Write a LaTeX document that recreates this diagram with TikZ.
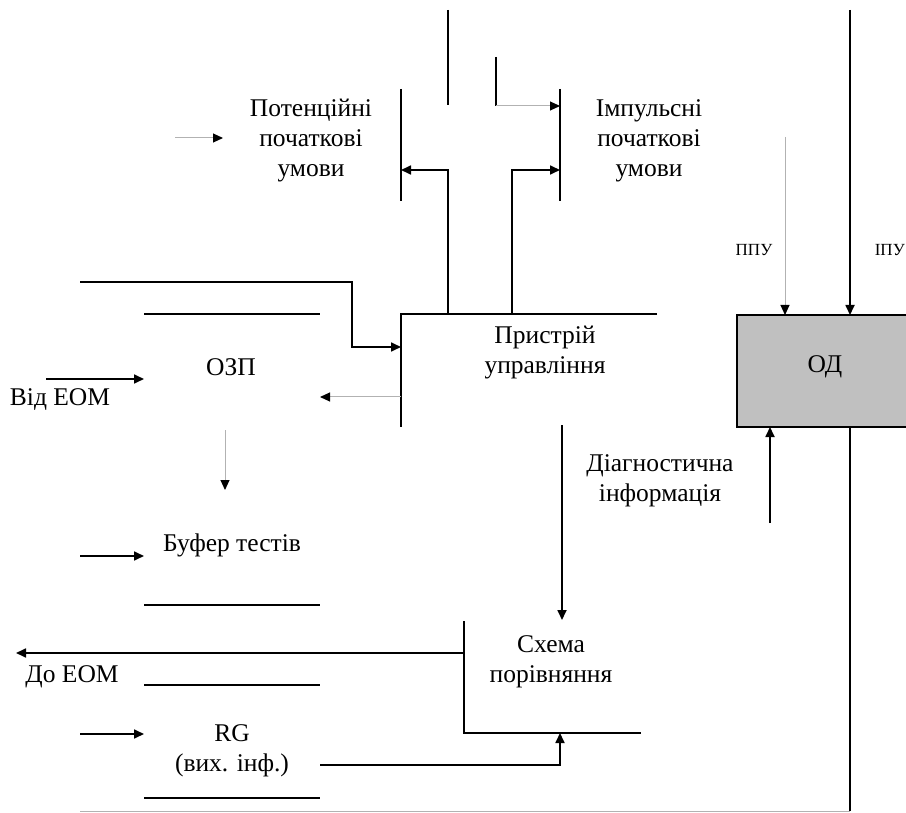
\documentclass[tikz,border=0pt]{standalone}
\usepackage{fontspec}
\setmainfont{Liberation Serif}
\usetikzlibrary{arrows.meta}
\definecolor{odgrey}{HTML}{C0C0C0}
\begin{document}
\begin{tikzpicture}[x=1pt,y=-1pt,
  ln/.style={line width=1.7pt, black},
  gl/.style={line width=1pt, black!30},
  arr/.style={-{Triangle[length=10pt,width=9pt,color=black]}},
  lbl/.style={font=\fontsize{25.5}{30}\selectfont, align=center, inner sep=0pt},
  sml/.style={font=\fontsize{17}{20}\selectfont, inner sep=0pt}]
\useasboundingbox (0,0) rectangle (906,813);

% ---- text nodes
\node[lbl] (pot) at (311,141) {Потенційні\\початкові\\умови};
\node[lbl] (imp) at (649,141) {Імпульсні\\початкові\\умови};
\node[lbl] (pu) at (545,353) {Пристрій\\управління};
\node[lbl] (ozp) at (231,367) {ОЗП};
\node[lbl] (vid) at (60,400) {Від ЕОМ};
\node[lbl] (buf) at (232,545) {Буфер тестів};
\node[lbl] (doeom) at (72,677) {До ЕОМ};
\node[lbl] (sch) at (551,662) {Схема\\порівняння};
\node[lbl] (rg) at (232,751) {RG\\(вих. інф.)};
\node[lbl] (diag) at (660,481) {Діагностична\\інформація};

% ---- ОД box
\fill[odgrey] (737,315) rectangle (906,427);
\coordinate (odTR) at (906,315); \coordinate (odTL) at (737,315);
\coordinate (odBL) at (737,427); \coordinate (odBR) at (906,427);
\draw[ln] (odTR) -- (odTL) -- (odBL) -- (odBR);
\node[lbl] (od) at (825,367) {ОД};
\node[sml] (ppu) at (754,250) {ППУ};
\node[sml, anchor=east] (ipu) at (905,250) {ІПУ};

% ---- top verticals
\coordinate (t1a) at (448,10); \coordinate (t1b) at (448,105);
\draw[ln] (t1a) -- (t1b);
\coordinate (t2a) at (496,57); \coordinate (t2b) at (496,106); \coordinate (t2c) at (560,106);
\draw[ln] (t2a) -- (t2b);
\draw[gl,arr] (t2b) -- (t2c);

% ---- bars
\coordinate (bL1) at (401,89); \coordinate (bL2) at (401,201);
\coordinate (bR1) at (560,89); \coordinate (bR2) at (560,201);
\draw[ln] (bL1) -- (bL2);
\draw[ln] (bR1) -- (bR2);

% ---- from Пристрій to bars
\coordinate (p1) at (448,314); \coordinate (p1u) at (448,170); \coordinate (bLm) at (401,170);
\draw[ln,arr] (p1) -- (p1u) -- (bLm);
\coordinate (p2) at (512,314); \coordinate (p2u) at (512,170); \coordinate (bRm) at (560,170);
\draw[ln,arr] (p2) -- (p2u) -- (bRm);

% ---- Пристрій frame
\coordinate (puTL) at (401,314); \coordinate (puTR) at (657,314); \coordinate (puBL) at (401,427);
\draw[ln] (puTR) -- (puTL) -- (puBL);

% ---- feed line
\coordinate (f1) at (80,282); \coordinate (f2) at (352,282); \coordinate (f3) at (352,347); \coordinate (f4) at (401,347);
\draw[ln,arr] (f1) -- (f2) -- (f3) -- (f4);

% ---- ОЗП
\coordinate (oz1) at (144,314); \coordinate (oz2) at (320,314);
\draw[ln] (oz1) -- (oz2);
\coordinate (v1) at (46,379); \coordinate (v2) at (144,379);
\draw[ln,arr] (v1) -- (v2);
\coordinate (g1) at (401,397); \coordinate (g2) at (320,397);
\draw[gl,arr] (g1) -- (g2);
\coordinate (g3) at (225,430); \coordinate (g4) at (225,490);
\draw[gl,arr] (g3) -- (g4);

% ---- Буфер тестів
\coordinate (b1) at (80,556); \coordinate (b2) at (144,556);
\draw[ln,arr] (b1) -- (b2);
\coordinate (b3) at (144,605); \coordinate (b4) at (320,605);
\draw[ln] (b3) -- (b4);

% ---- До ЕОМ
\coordinate (d1) at (464,653); \coordinate (d2) at (16,653);
\draw[ln,arr] (d1) -- (d2);
\coordinate (r1) at (144,685); \coordinate (r2) at (320,685);
\draw[ln] (r1) -- (r2);

% ---- Схема порівняння
\coordinate (s1) at (464,621); \coordinate (s2) at (464,733); \coordinate (s3) at (641,733);
\draw[ln] (s1) -- (s2) -- (s3);
\coordinate (pd1) at (562,425); \coordinate (pd2) at (562,620);
\draw[ln,arr] (pd1) -- (pd2);

% ---- RG
\coordinate (rg1) at (80,734); \coordinate (rg2) at (144,734);
\draw[ln,arr] (rg1) -- (rg2);
\coordinate (rg3) at (320,765); \coordinate (rg4) at (560,765); \coordinate (rg5) at (560,733);
\draw[ln,arr] (rg3) -- (rg4) -- (rg5);
\coordinate (r3) at (144,798); \coordinate (r4) at (320,798);
\draw[ln] (r3) -- (r4);

% ---- bottom loop and ОД links
\coordinate (bt1) at (80,811); \coordinate (bt2) at (850,811); \coordinate (odb) at (850,427);
\draw[gl] (bt1) -- (bt2);
\draw[ln] (odb) -- (bt2);
\coordinate (pp1) at (785,137); \coordinate (pp2) at (785,315);
\draw[gl,arr] (pp1) -- (pp2);
\coordinate (ip1) at (850,10); \coordinate (ip2) at (850,315);
\draw[ln,arr] (ip1) -- (ip2);
\coordinate (u1) at (770,523); \coordinate (u2) at (770,427);
\draw[ln,arr] (u1) -- (u2);

% ---- left arrow to Потенційні
\coordinate (pa1) at (175,138); \coordinate (pa2) at (223,138);
\draw[gl,arr] (pa1) -- (pa2);
\end{tikzpicture}
\end{document}
